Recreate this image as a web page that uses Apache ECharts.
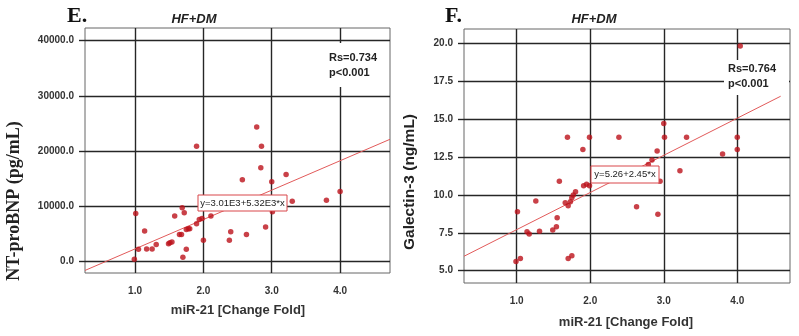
<!DOCTYPE html>
<html lang="en">
<head>
    <meta charset="UTF-8">
    <title>miR-21 correlations</title>
    <script type="text/javascript" src="https://cdn.jsdelivr.net/npm/echarts@6/dist/echarts.min.js"></script>
</head>
<body style="margin:0;background:#fff;">
    <div id="main" style="width: 799px; height:336px;"></div>
    <script type="text/javascript">
        // shared x ticks (miR-21 fold change)
        var xTicks = [1, 2, 3, 4];
        var ticksE = [0, 10000, 20000, 30000, 40000];
        var ticksF = [5, 7.5, 10, 12.5, 15, 17.5, 20];

        // panel E: miR-21 vs NT-proBNP
        var pointsE = [
            [0.99, 420], [1.01, 8730], [1.05, 2230], [1.14, 5540], [1.17, 2290],
            [1.25, 2290], [1.31, 3130], [1.49, 3250], [1.51, 3430], [1.54, 3550],
            [1.58, 8250], [1.65, 4940], [1.68, 4940], [1.69, 9760], [1.70, 780],
            [1.72, 8860], [1.75, 2230], [1.75, 5840], [1.78, 5960], [1.80, 5960],
            [1.90, 20900], [1.90, 6870], [1.94, 7650], [1.98, 7830], [2.00, 3860],
            [2.11, 8250], [2.38, 3860], [2.40, 5420], [2.57, 14820], [2.63, 4940],
            [2.78, 24400], [2.85, 20900], [2.84, 17000], [2.91, 6270], [3.00, 14460],
            [3.01, 9040], [3.21, 15780], [3.30, 10960], [3.80, 11140], [4.00, 12710]
        ];

        // panel F: miR-21 vs Galectin-3
        var pointsF = [
            [0.99, 5.61], [1.01, 8.89], [1.05, 5.81], [1.14, 7.57], [1.17, 7.42],
            [1.26, 9.60], [1.31, 7.60], [1.49, 7.68], [1.54, 7.90], [1.55, 8.50],
            [1.58, 10.90], [1.66, 9.49], [1.69, 13.80], [1.70, 9.29], [1.70, 5.81],
            [1.73, 9.55], [1.75, 9.82], [1.75, 5.99], [1.77, 10.0], [1.80, 10.2],
            [1.90, 13.0], [1.91, 10.6], [1.95, 10.7], [1.99, 13.8], [1.99, 10.6],
            [2.39, 13.8], [2.63, 9.22], [2.79, 12.0], [2.84, 12.3], [2.91, 12.9],
            [2.92, 8.72], [2.95, 10.9], [3.00, 14.7], [3.01, 13.8], [3.22, 11.6],
            [3.31, 13.8], [3.80, 12.7], [4.00, 13.8], [4.00, 13.0], [4.04, 19.82]
        ];

        // fit lines: intercept, slope and drawn x-range
        var fitE = { a: -3010, b: 5320, from: 0.268, to: 4.73 };
        var fitF = { a: 5.26, b: 2.45, from: 0.283, to: 4.59 };

        function fitLine(f) {
            return [[f.from, f.a + f.b * f.from], [f.to, f.a + f.b * f.to]];
        }

        var chartDom = document.getElementById('main');
        var myChart = echarts.init(chartDom);
        var font = 'Liberation Sans';
        var gridColor = '#262626';
        var dotColor = '#bb111a';
        var lineColor = '#e25a5a';

        function xAxisFor(idx, min, max) {
            return {
                type: 'value', gridIndex: idx, min: min, max: max,
                axisLine: { show: false },
                axisTick: { show: true, length: 0, customValues: xTicks },
                axisLabel: {
                    customValues: xTicks, margin: 13, color: '#333',
                    fontFamily: font, fontSize: 10, fontWeight: 'bold',
                    formatter: function(v) { return v.toFixed(1); }
                },
                splitLine: { show: true, lineStyle: { color: gridColor, width: 1.4 } }
            };
        }

        function yAxisFor(idx, min, max, ticks) {
            return {
                type: 'value', gridIndex: idx, min: min, max: max,
                axisLine: { show: false },
                axisTick: { show: true, length: 6, customValues: ticks, lineStyle: { color: gridColor, width: 1.4 } },
                axisLabel: {
                    customValues: ticks, margin: 11, color: '#333',
                    fontFamily: font, fontSize: 10, fontWeight: 'bold',
                    formatter: function(v) { return v.toFixed(1); }
                },
                splitLine: { show: true, lineStyle: { color: gridColor, width: 1.4 } }
            };
        }

        var option = {
            animation: false,
            backgroundColor: '#fff',
            grid: [
                { left: 85, top: 28, width: 305, height: 245, show: true, borderColor: '#666', borderWidth: 1 },
                { left: 464, top: 29, width: 326, height: 254, show: true, borderColor: '#666', borderWidth: 1 }
            ],
            xAxis: [xAxisFor(0, 0.268, 4.73), xAxisFor(1, 0.283, 4.717)],
            yAxis: [yAxisFor(0, -2050, 42300, ticksE), yAxisFor(1, 4.19, 20.94, ticksF)],
            series: [
                {
                    type: 'line', xAxisIndex: 0, yAxisIndex: 0, data: fitLine(fitE),
                    symbol: 'none', lineStyle: { color: lineColor, width: 1 }, z: 3
                },
                {
                    type: 'scatter', xAxisIndex: 0, yAxisIndex: 0, data: pointsE,
                    symbolSize: 5.5, itemStyle: { color: dotColor }, z: 4
                },
                {
                    type: 'line', xAxisIndex: 1, yAxisIndex: 1, data: fitLine(fitF),
                    symbol: 'none', lineStyle: { color: lineColor, width: 1 }, z: 3
                },
                {
                    type: 'scatter', xAxisIndex: 1, yAxisIndex: 1, data: pointsF,
                    symbolSize: 5.5, itemStyle: { color: dotColor }, z: 4
                }
            ],
            graphic: [
                // panel letters and titles
                { type: 'text', left: 67, top: 5, z: 20, style: { text: 'E.', font: 'bold 22px "Liberation Serif"', fill: '#111' } },
                { type: 'text', left: 445, top: 5, z: 20, style: { text: 'F.', font: 'bold 22px "Liberation Serif"', fill: '#111' } },
                { type: 'text', x: 194, y: 19, z: 20, style: { text: 'HF+DM', font: 'italic bold 13px "Liberation Sans"', fill: '#222', align: 'center', verticalAlign: 'middle' } },
                { type: 'text', x: 594, y: 19, z: 20, style: { text: 'HF+DM', font: 'italic bold 13px "Liberation Sans"', fill: '#222', align: 'center', verticalAlign: 'middle' } },

                // axis names
                { type: 'text', x: 238, y: 310, z: 20, style: { text: 'miR-21 [Change Fold]', font: 'bold 13px "Liberation Sans"', fill: '#333', align: 'center', verticalAlign: 'middle' } },
                { type: 'text', x: 626, y: 322, z: 20, style: { text: 'miR-21 [Change Fold]', font: 'bold 13px "Liberation Sans"', fill: '#333', align: 'center', verticalAlign: 'middle' } },
                { type: 'text', x: 14, y: 201, rotation: Math.PI / 2, z: 20, style: { text: 'NT-proBNP (pg/mL)', font: 'bold 18px "Liberation Serif"', fill: '#222', align: 'center', verticalAlign: 'middle' } },
                { type: 'text', x: 410, y: 182, rotation: Math.PI / 2, z: 20, style: { text: 'Galectin-3 (ng/mL)', font: 'bold 15.5px "Liberation Sans"', fill: '#222', align: 'center', verticalAlign: 'middle' } },

                // Rs / p boxes (cover the grid lines)
                { type: 'rect', shape: { x: 324, y: 43, width: 56, height: 44 }, z: 15, style: { fill: '#fff' } },
                { type: 'text', x: 329, y: 58, z: 20, style: { text: 'Rs=0.734', font: 'bold 11px "Liberation Sans"', fill: '#222', verticalAlign: 'middle' } },
                { type: 'text', x: 329, y: 73, z: 20, style: { text: 'p<0.001', font: 'bold 11px "Liberation Sans"', fill: '#222', verticalAlign: 'middle' } },
                { type: 'rect', shape: { x: 724, y: 60, width: 65, height: 35 }, z: 15, style: { fill: '#fff' } },
                { type: 'text', x: 728, y: 69, z: 20, style: { text: 'Rs=0.764', font: 'bold 11px "Liberation Sans"', fill: '#222', verticalAlign: 'middle' } },
                { type: 'text', x: 728, y: 84, z: 20, style: { text: 'p<0.001', font: 'bold 11px "Liberation Sans"', fill: '#222', verticalAlign: 'middle' } },

                // equation labels
                { type: 'rect', shape: { x: 198, y: 195, width: 89, height: 16 }, z: 15, style: { fill: '#fff', stroke: '#d9474a', lineWidth: 1 } },
                { type: 'text', x: 242.5, y: 203, z: 20, style: { text: 'y=3.01E3+5.32E3*x', font: '9.5px "Liberation Sans"', fill: '#222', align: 'center', verticalAlign: 'middle' } },
                { type: 'rect', shape: { x: 591, y: 166, width: 68, height: 17 }, z: 15, style: { fill: '#fff', stroke: '#d9474a', lineWidth: 1 } },
                { type: 'text', x: 625, y: 174.5, z: 20, style: { text: 'y=5.26+2.45*x', font: '9.5px "Liberation Sans"', fill: '#222', align: 'center', verticalAlign: 'middle' } }
            ]
        };

        option && myChart.setOption(option);
    </script>
</body>
</html>
